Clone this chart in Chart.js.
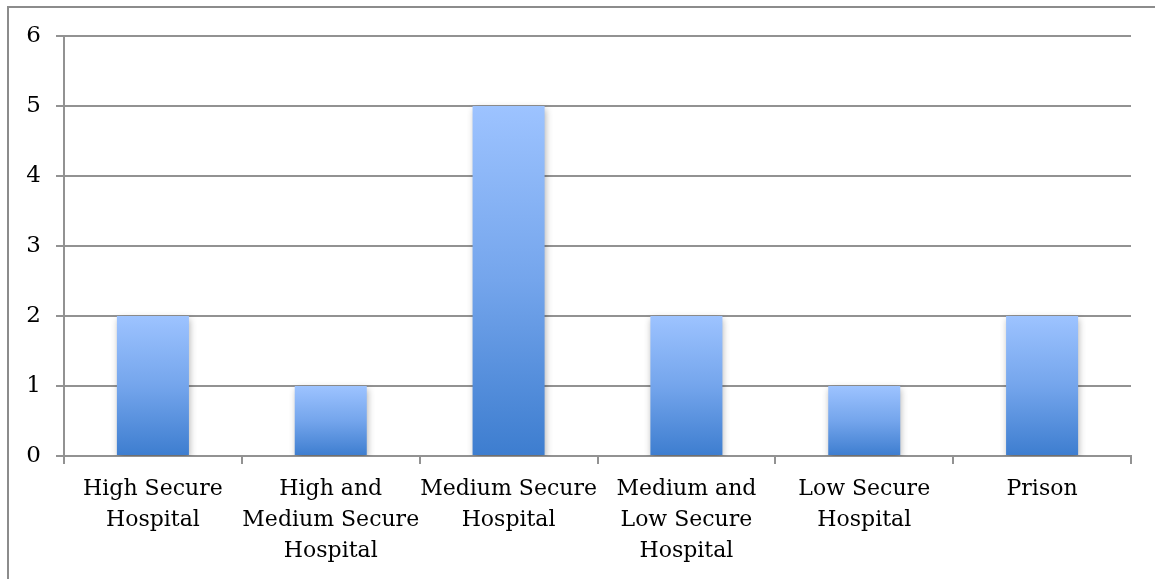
<!DOCTYPE html>
<html>
<head>
<meta charset="utf-8">
<script src="https://cdn.jsdelivr.net/npm/chart.js@4/dist/chart.umd.min.js"></script>
<style>
  html, body { margin: 0; padding: 0; background: #ffffff; overflow: hidden; }
  #frame {
    position: absolute; left: 7px; top: 6px; width: 1300px; height: 800px;
    border: 2px solid #8c8c8c; box-sizing: border-box;
  }
  #wrap { position: absolute; left: 0; top: 0; width: 1155px; height: 579px; }
</style>
</head>
<body>
<div id="frame"></div>
<div id="wrap"><canvas id="chart"></canvas></div>
<script>
// Placement of patients by setting
const categories = [
  ['High Secure', 'Hospital'],
  ['High and', 'Medium Secure', 'Hospital'],
  ['Medium Secure', 'Hospital'],
  ['Medium and', 'Low Secure', 'Hospital'],
  ['Low Secure', 'Hospital'],
  ['Prison']
];
const counts = [2, 1, 5, 2, 1, 2];
const yMin = 0;
const yMax = 6;
const yStep = 1;

const FONT = '"DejaVu Serif", "Liberation Serif", serif';
const GRID = '#929292';

// Vertical gradient per bar, light at the top, darker at the base
function barGradient(ctx) {
  const chart = ctx.chart;
  const y = chart.scales && chart.scales.y;
  if (!y || ctx.type !== 'data') return '#6a9de6';
  const top = y.getPixelForValue(ctx.raw);
  const base = y.getPixelForValue(0);
  if (!isFinite(top) || !isFinite(base) || top === base) return '#6a9de6';
  const g = chart.ctx.createLinearGradient(0, top, 0, base);
  g.addColorStop(0, '#9dc3ff');
  g.addColorStop(0.5, '#74a5ec');
  g.addColorStop(1, '#3d7dcf');
  return g;
}

// Soft drop shadow behind the bars
const barShadow = {
  id: 'barShadow',
  beforeDatasetsDraw(chart) {
    const c = chart.ctx;
    c.save();
    c.shadowColor = 'rgba(0,0,0,0.32)';
    c.shadowBlur = 7;
    c.shadowOffsetX = 1;
    c.shadowOffsetY = 3;
  },
  afterDatasetsDraw(chart) {
    chart.ctx.restore();
  }
};

new Chart(document.getElementById('chart'), {
  type: 'bar',
  data: {
    labels: categories,
    datasets: [{
      data: counts,
      backgroundColor: barGradient,
      borderWidth: 0,
      categoryPercentage: 1,
      barPercentage: 0.405
    }]
  },
  plugins: [barShadow],
  options: {
    responsive: true,
    maintainAspectRatio: false,
    devicePixelRatio: 1,
    animation: false,
    layout: { padding: { left: 0, top: 36, right: 24, bottom: 0 } },
    plugins: {
      legend: { display: false },
      tooltip: { enabled: false }
    },
    scales: {
      x: {
        offset: true,
        grid: {
          offset: true,
          drawOnChartArea: false,
          drawTicks: true,
          tickLength: 8,
          color: GRID,
          lineWidth: 2
        },
        border: { display: true, color: GRID, width: 2 },
        ticks: {
          color: '#000000',
          font: { family: FONT, size: 22, lineHeight: 1.41 },
          padding: 10,
          maxRotation: 0,
          autoSkip: false
        },
        afterFit(axis) { axis.height = 123; }
      },
      y: {
        min: yMin,
        max: yMax,
        grid: {
          color: GRID,
          lineWidth: 2,
          tickLength: 8,
          drawTicks: true
        },
        border: { display: true, color: GRID, width: 2 },
        ticks: {
          stepSize: yStep,
          color: '#000000',
          font: { family: FONT, size: 23 },
          padding: 15
        },
        afterFit(axis) { axis.width = 64; }
      }
    }
  }
});
</script>
</body>
</html>
